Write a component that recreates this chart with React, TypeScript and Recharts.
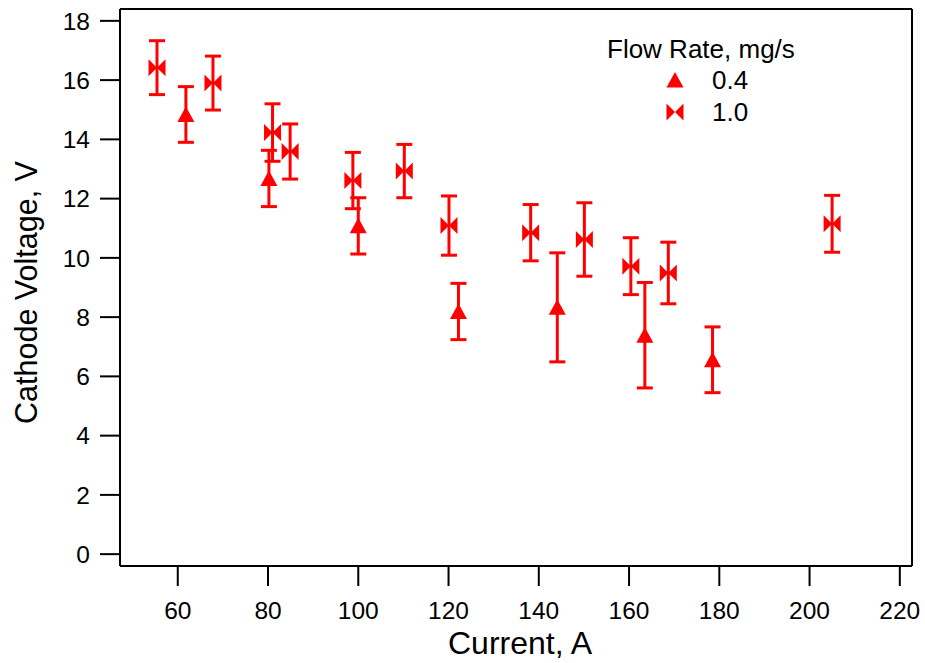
import React from 'react';
import { ScatterChart, Scatter, XAxis, YAxis, ErrorBar, Legend } from 'recharts';

// flow rate 0.4 mg/s
const CURRENT_04 = [61.8, 80.2, 100.0, 122.2, 144.1, 163.5, 178.5];
const VOLTAGE_04 = [14.84, 12.68, 11.08, 8.19, 8.33, 7.39, 6.56];
const ERR_04 = [0.94, 0.95, 0.95, 0.95, 1.84, 1.78, 1.11];

// flow rate 1.0 mg/s
const CURRENT_10 = [55.4, 67.8, 81.0, 84.9, 98.8, 110.2, 120.1, 138.2, 150.1, 160.4, 168.7, 205.0];
const VOLTAGE_10 = [16.42, 15.9, 14.23, 13.59, 12.61, 12.93, 11.09, 10.85, 10.62, 9.72, 9.49, 11.15];
const ERR_10 = [0.91, 0.91, 0.97, 0.93, 0.95, 0.9, 1.0, 0.95, 1.24, 0.96, 1.04, 0.96];

const X_TICKS = [60, 80, 100, 120, 140, 160, 180, 200, 220];
const Y_TICKS = [0, 2, 4, 6, 8, 10, 12, 14, 16, 18];
const X_DOMAIN: [number, number] = [47.2, 222.7];
const Y_DOMAIN: [number, number] = [-0.4, 18.4];

const FONT = '"Liberation Sans", Arial, Helvetica, sans-serif';
const RED = '#ff0000';

const data04 = CURRENT_04.map((x, i) => ({ x, y: VOLTAGE_04[i], err: ERR_04[i] }));
const data10 = CURRENT_10.map((x, i) => ({ x, y: VOLTAGE_10[i], err: ERR_10[i] }));

function triPath(cx: number, cy: number) {
  return `M${cx},${cy - 8}L${cx + 8.5},${cy + 7.5}L${cx - 8.5},${cy + 7.5}Z`;
}

function bowPath(cx: number, cy: number) {
  const h = 8.5;
  return `M${cx - h},${cy - h}L${cx},${cy}L${cx - h},${cy + h}Z M${cx + h},${cy - h}L${cx},${cy}L${cx + h},${cy + h}Z`;
}

const Triangle = (props: any) => <path d={triPath(props.cx, props.cy)} fill={RED} />;
const Bowtie = (props: any) => <path d={bowPath(props.cx, props.cy)} fill={RED} />;

function FlowLegend({ payload }: any) {
  const items = payload || [];
  return (
    <svg width={220} height={110} style={{ display: 'block' }}>
      <text x={7} y={38} fontSize={26} fontFamily={FONT} fill="#000">
        Flow Rate, mg/s
      </text>
      {items.map((it: any, i: number) => {
        const cy = 60 + i * 32;
        return (
          <g key={it.value}>
            <path d={it.value === '0.4' ? triPath(75, cy) : bowPath(75, cy)} fill={RED} />
            <text x={112} y={cy + 9} fontSize={26} fontFamily={FONT} fill="#000">
              {it.value}
            </text>
          </g>
        );
      })}
    </svg>
  );
}

export default function App() {
  const axisLine = { stroke: '#000', strokeWidth: 2 };
  const tick = { fontSize: 24.5, fill: '#000', fontFamily: FONT };
  return (
    <div style={{ position: 'absolute', left: 0, top: 0, background: '#fff' }}>
      <ScatterChart width={925} height={663} margin={{ top: 0, right: 0, bottom: 0, left: 0 }}>
        <XAxis
          type="number"
          dataKey="x"
          domain={X_DOMAIN}
          allowDataOverflow
          ticks={X_TICKS}
          interval={0}
          height={97}
          tickSize={20}
          tickMargin={16}
          axisLine={axisLine}
          tickLine={axisLine}
          tick={tick}
          label={(p: any) => (
            <text
              x={p.viewBox.x + p.viewBox.width / 2 + 4}
              y={p.viewBox.y + 88}
              textAnchor="middle"
              fontSize={32}
              fontFamily={FONT}
              fill="#000"
            >
              Current, A
            </text>
          )}
        />
        <XAxis
          xAxisId="top"
          orientation="top"
          type="number"
          domain={X_DOMAIN}
          allowDataOverflow
          height={9}
          tick={false}
          tickLine={false}
          axisLine={axisLine}
        />
        <YAxis
          type="number"
          dataKey="y"
          domain={Y_DOMAIN}
          allowDataOverflow
          ticks={Y_TICKS}
          interval={0}
          width={120}
          tickSize={20}
          tickMargin={10}
          axisLine={axisLine}
          tickLine={axisLine}
          tick={tick}
          label={(p: any) => {
            const x = p.viewBox.x + 37;
            const y = p.viewBox.y + p.viewBox.height / 2 + 5;
            return (
              <text
                x={x}
                y={y}
                transform={`rotate(-90 ${x} ${y})`}
                textAnchor="middle"
                fontSize={30.5}
                fontFamily={FONT}
                fill="#000"
              >
                Cathode Voltage, V
              </text>
            );
          }}
        />
        <YAxis
          yAxisId="right"
          orientation="right"
          type="number"
          domain={Y_DOMAIN}
          allowDataOverflow
          width={13}
          tick={false}
          tickLine={false}
          axisLine={axisLine}
        />
        <Legend
          layout="vertical"
          align="center"
          verticalAlign="middle"
          content={<FlowLegend />}
          wrapperStyle={{ position: 'absolute', left: 600, top: 20, width: 220, height: 110 }}
        />
        <Scatter name="0.4" data={data04} fill={RED} shape={Triangle} isAnimationActive={false}>
          <ErrorBar dataKey="err" direction="y" width={8} stroke={RED} strokeWidth={3} isAnimationActive={false} />
        </Scatter>
        <Scatter name="1.0" data={data10} fill={RED} shape={Bowtie} isAnimationActive={false}>
          <ErrorBar dataKey="err" direction="y" width={8} stroke={RED} strokeWidth={3} isAnimationActive={false} />
        </Scatter>
      </ScatterChart>
    </div>
  );
}
